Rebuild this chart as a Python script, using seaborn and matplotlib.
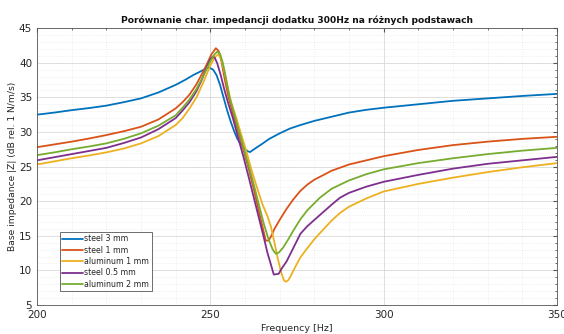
import numpy as np
import pandas as pd
import matplotlib
matplotlib.use("Agg")
import matplotlib.pyplot as plt
import seaborn as sns
from matplotlib.ticker import MultipleLocator

series_names = ["steel 3 mm", "steel 1 mm", "aluminum 1 mm", "steel 0.5 mm", "aluminum 2 mm"]
colors = ["#0072BD", "#D95319", "#EDB120", "#7E2F8E", "#77AC30"]

steel3_f = [200, 205, 210, 215, 220, 225, 230, 235, 240, 243, 245, 247, 248.5, 249.7, 250.8, 251.8,
            252.8, 253.8, 254.8, 255.8, 256.8, 257.8, 258.8, 259.8, 260.8, 261.5, 262.3, 263.5, 265,
            267, 270, 273, 276, 280, 285, 290, 295, 300, 310, 320, 330, 340, 350]
steel3_v = [32.5, 32.8, 33.15, 33.45, 33.8, 34.3, 34.85, 35.7, 36.8, 37.6, 38.2, 38.7, 39.1, 39.3, 39.0, 38.2,
            36.8, 35.0, 33.2, 31.6, 30.2, 29.0, 28.2, 27.6, 27.2, 27.1, 27.4, 27.8, 28.3,
            29.0, 29.8, 30.5, 31.0, 31.6, 32.2, 32.8, 33.2, 33.5, 34.0, 34.5, 34.85, 35.2, 35.5]

steel1_f = [200, 205, 210, 215, 220, 225, 230, 235, 240, 242, 244, 246, 247.5, 249, 250.3, 251.6, 252.4,
            253.2, 254.2, 255.2, 256.5, 258, 259.5, 261, 262.5, 263.8, 265, 266, 266.8, 267.5, 268.5,
            270, 272, 274, 276, 278, 280, 285, 290, 295, 300, 310, 320, 330, 340, 350]
steel1_v = [27.8, 28.2, 28.6, 29.05, 29.55, 30.1, 30.75, 31.8, 33.4, 34.3, 35.4, 36.9, 38.3, 39.8, 41.2, 42.1, 41.7,
            40.2, 37.5, 35.1, 32.7, 30.1, 27.5, 24.8, 21.8, 19.0, 16.4, 14.3, 14.3, 14.9, 16.0,
            17.3, 18.9, 20.3, 21.5, 22.4, 23.1, 24.4, 25.3, 25.9, 26.5, 27.4, 28.1, 28.6, 29.0, 29.3]

alu1_f = [200, 205, 210, 215, 220, 225, 230, 235, 240, 242, 244, 246, 248, 250, 251.3, 252.3, 253.1,
          254, 255, 256, 257.5, 259, 260.5, 262, 263.5, 265, 266.5, 267.5, 268.5, 269.5, 270.5, 271.2,
          271.8, 272.5, 273.3, 274.5, 276, 277.8, 280, 282, 285, 287.4, 290, 295, 300, 310, 320, 330,
          340, 350]
alu1_v = [25.3, 25.75, 26.2, 26.6, 27.05, 27.6, 28.35, 29.4, 31.0, 32.0, 33.4, 35.0, 37.2, 39.6, 40.8, 41.2, 40.6,
          38.8, 36.5, 34.3, 32.0, 29.5, 27.0, 24.3, 21.9, 19.6, 17.8, 16.3, 14.0, 11.6, 9.6, 8.6,
          8.35, 8.6, 9.3, 10.5, 11.9, 13.1, 14.5, 15.6, 17.2, 18.3, 19.2, 20.4, 21.4, 22.5, 23.4, 24.2,
          24.9, 25.5]

steel05_f = [200, 205, 210, 215, 220, 225, 230, 235, 240, 242, 244, 246, 247.5, 249, 250, 250.7, 251.3,
             252, 253, 254, 255, 256.5, 258, 259.5, 261, 262.5, 264, 265.3, 266.5, 267.5, 268.3, 269.7,
             270.5, 272, 274, 276, 278, 281.6, 285, 287.4, 290, 295, 300, 310, 320, 330, 340, 350]
steel05_v = [25.9, 26.35, 26.8, 27.25, 27.7, 28.4, 29.2, 30.4, 32.0, 33.1, 34.3, 35.9, 37.5, 39.4, 40.5, 40.9, 40.7,
             39.9, 38.2, 36.2, 34.4, 32.0, 29.2, 26.5, 23.6, 20.6, 17.6, 15.0, 12.5, 10.8, 9.4, 9.5,
             10.2, 11.3, 13.3, 15.3, 16.4, 18.0, 19.5, 20.5, 21.2, 22.1, 22.8, 23.8, 24.7, 25.4, 25.9, 26.4]

alu2_f = [200, 205, 210, 215, 220, 225, 230, 235, 240, 242, 244, 246, 248, 250, 251.2, 252, 252.8,
          253.6, 254.5, 255.5, 257, 258.5, 260, 261.5, 263, 264.3, 265.5, 266.8, 268, 268.9, 269.8,
          271, 272.5, 274, 276, 278, 281.6, 285, 290, 295, 300, 310, 320, 330, 340, 350]
alu2_v = [26.65, 27.05, 27.5, 27.9, 28.35, 29.0, 29.8, 30.9, 32.4, 33.5, 34.7, 36.2, 38.1, 40.2, 41.2, 41.6, 41.3,
          40.0, 37.8, 35.1, 32.4, 29.7, 27.0, 24.3, 21.5, 18.9, 16.6, 14.5, 13.0, 12.4, 12.6,
          13.3, 14.5, 15.8, 17.4, 18.7, 20.5, 21.8, 23.0, 23.9, 24.6, 25.5, 26.2, 26.8, 27.3, 27.7]

all_f = [steel3_f, steel1_f, alu1_f, steel05_f, alu2_f]
all_v = [steel3_v, steel1_v, alu1_v, steel05_v, alu2_v]

frames = []
for name, f, v in zip(series_names, all_f, all_v):
    frames.append(pd.DataFrame({"Frequency": f, "Z": v, "series": name}))
df = pd.concat(frames, ignore_index=True)

sns.set_style("white")
plt.rcParams["font.family"] = ["DejaVu Sans"]

fig = plt.figure(figsize=(5.64, 3.34), dpi=100)
ax = fig.add_axes([0.0656, 0.0868, 0.922, 0.829])

sns.lineplot(data=df, x="Frequency", y="Z", hue="series", hue_order=series_names,
             palette=colors, estimator=None, sort=False, linewidth=1.3, ax=ax)

ax.set_xlim(200, 350)
ax.set_ylim(5, 45)
ax.xaxis.set_major_locator(MultipleLocator(50))
ax.xaxis.set_minor_locator(MultipleLocator(10))
ax.yaxis.set_major_locator(MultipleLocator(5))
ax.yaxis.set_minor_locator(MultipleLocator(1))
ax.grid(which="major", color="#d9d9d9", linewidth=0.6)
ax.grid(which="minor", color="#e6e6e6", linewidth=0.5, linestyle=":")
ax.set_axisbelow(True)
ax.tick_params(which="both", direction="in", top=True, right=True, colors="#555555",
               labelcolor="#262626", labelsize=7.5)
ax.tick_params(which="major", length=3)
ax.tick_params(which="minor", length=1.6)
for s in ax.spines.values():
    s.set_color("#555555")
    s.set_linewidth(0.6)

ax.set_title("Porównanie char. impedancji dodatku 300Hz na różnych podstawach",
             fontsize=6.6, fontweight="bold", color="#111111", pad=4)
ax.set_xlabel("Frequency [Hz]", fontsize=6.8, color="#262626", labelpad=3)
ax.set_ylabel("Base impedance |Z| (dB rel. 1 N/m/s)", fontsize=6.6, color="#262626", labelpad=1)

leg = ax.legend(loc="lower left", bbox_to_anchor=(0.044, 0.05), fontsize=5.7, frameon=True,
                fancybox=False, edgecolor="#555555", framealpha=1, handlelength=2.6,
                handletextpad=0.2, labelspacing=0.3, borderpad=0.3, borderaxespad=0, title=None)
leg.get_frame().set_linewidth(0.6)

fig.savefig("out.png", dpi=100)
